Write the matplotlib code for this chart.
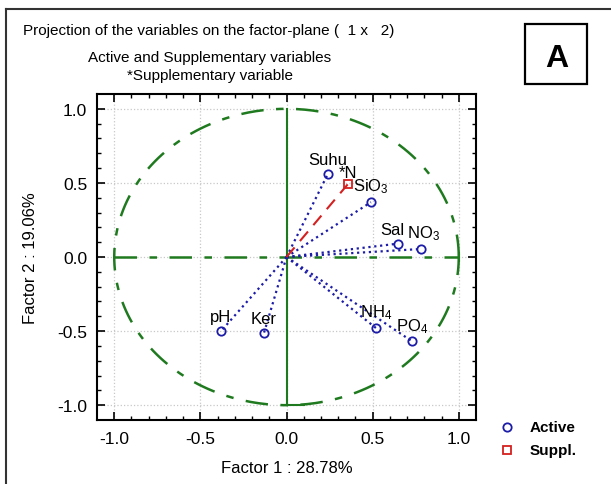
import numpy as np
import matplotlib
matplotlib.use('Agg')
import matplotlib.pyplot as plt
from matplotlib.lines import Line2D
from matplotlib.patches import Rectangle

plt.rcParams['font.family'] = ['Liberation Sans', 'DejaVu Sans']
plt.rcParams['mathtext.fontset'] = 'custom'
plt.rcParams['mathtext.rm'] = 'Liberation Sans'
plt.rcParams['mathtext.it'] = 'Liberation Sans'

# active variables
names = ['Suhu', 'SiO$_3$', 'Sal', 'NO$_3$', 'NH$_4$', 'PO$_4$', 'pH', 'Ker']
f1 = [0.24, 0.49, 0.645, 0.78, 0.52, 0.73, -0.38, -0.13]
f2 = [0.56, 0.37, 0.09, 0.054, -0.48, -0.57, -0.50, -0.51]
# supplementary variable
sup_names = ['*N']
sup_f1 = [0.355]
sup_f2 = [0.49]

ticks = [-1.0, -0.5, 0.0, 0.5, 1.0]
green = '#1f7a1f'
blue = '#1c1ca8'
red = '#d42020'

fig = plt.figure(figsize=(6.11, 4.85), dpi=100)
ax = fig.add_axes([97/611, 1-421/485, 379/611, 326/485])

# unit circle and axes
t = np.linspace(0, 2*np.pi, 400)
ax.plot(np.cos(t), np.sin(t), color=green, lw=1.8, dashes=(9, 5, 3, 5))
ax.plot([-1, 1], [0, 0], color=green, lw=1.8, dashes=(9, 5, 3, 5))
ax.plot([0, 0], [-1, 1], color=green, lw=1.5)
ax.plot([1, 1], [-0.03, 0.03], color=green, lw=1.5)
ax.plot([0, 0.1], [-1, -1], color=green, lw=1.5)

for x, y in zip(f1, f2):
    ax.plot([0, x], [0, y], color=blue, lw=1.6, ls=':')
ax.plot(f1, f2, 'o', mfc='none', mec=blue, mew=1.3, ms=6)
for s, x, y in zip(names, f1, f2):
    dx = -4 if s == 'Sal' else (2 if s.startswith('NO') else 0)
    ax.annotate(s, (x, y), xytext=(dx, 5), textcoords='offset points',
                ha='center', va='bottom', fontsize=12)

for x, y in zip(sup_f1, sup_f2):
    ax.plot([0, x], [0, y], color=red, lw=1.5, dashes=(6, 4))
ax.plot(sup_f1, sup_f2, 's', mfc='none', mec=red, mew=1.3, ms=6)
for s, x, y in zip(sup_names, sup_f1, sup_f2):
    ax.annotate(s, (x, y), xytext=(0, 3), textcoords='offset points',
                ha='center', va='bottom', fontsize=12)

ax.set_xlim(-1.1, 1.1)
ax.set_ylim(-1.1, 1.1)
ax.set_xticks(ticks)
ax.set_yticks(ticks)
ax.set_xticks(np.arange(-1.0, 1.05, 0.1), minor=True)
ax.set_yticks(np.arange(-1.0, 1.05, 0.1), minor=True)
ax.set_xticklabels([f'{v:.1f}' for v in ticks])
ax.set_yticklabels([f'{v:.1f}' for v in ticks])
ax.tick_params(which='both', direction='in', top=True, right=True, labelsize=12.5)
ax.tick_params(which='major', length=6, width=1.2)
ax.tick_params(axis='x', which='major', pad=8)
ax.tick_params(axis='y', which='major', pad=7)
ax.tick_params(which='minor', length=3, width=1)
ax.grid(True, color='#c8c8c8', ls=':', lw=0.9)
ax.set_axisbelow(True)
for sp in ax.spines.values():
    sp.set_linewidth(1.5)
ax.set_xlabel('Factor 1 : 28.78%', fontsize=12, labelpad=10)
ax.set_ylabel('Factor 2 : 19.06%', fontsize=12, labelpad=14)

fig.text(209/611, 1-31/485, 'Projection of the variables on the factor-plane (  1 x   2)',
         ha='center', va='center', fontsize=11)
fig.text(210/611, 1-58/485, 'Active and Supplementary variables',
         ha='center', va='center', fontsize=11)
fig.text(210/611, 1-76/485, '*Supplementary variable',
         ha='center', va='center', fontsize=11)

# panel letter box
fig.add_artist(Rectangle((525/611, 1-85/485), 62/611, 60/485, transform=fig.transFigure,
                         fill=False, ec='black', lw=1.6))
fig.text(557/611, 1-59/485, 'A', ha='center', va='center', fontsize=23, fontweight='bold')

# outer frame
fig.add_artist(Line2D([6/611, 1], [1-10/485, 1-10/485], transform=fig.transFigure, color='#333333', lw=1.5))
fig.add_artist(Line2D([6/611, 6/611], [0, 1-10/485], transform=fig.transFigure, color='#333333', lw=1.5))

# legend
fig.add_artist(Line2D([507/611], [1-428/485], transform=fig.transFigure, marker='o',
                      mfc='none', mec=blue, mew=1.3, ms=6, ls='none'))
fig.add_artist(Line2D([507/611], [1-451/485], transform=fig.transFigure, marker='s',
                      mfc='none', mec=red, mew=1.3, ms=6, ls='none'))
fig.text(530/611, 1-428/485, 'Active', va='center', fontsize=11, fontweight='bold')
fig.text(530/611, 1-451/485, 'Suppl.', va='center', fontsize=11, fontweight='bold')

fig.savefig('out.png', dpi=100)
